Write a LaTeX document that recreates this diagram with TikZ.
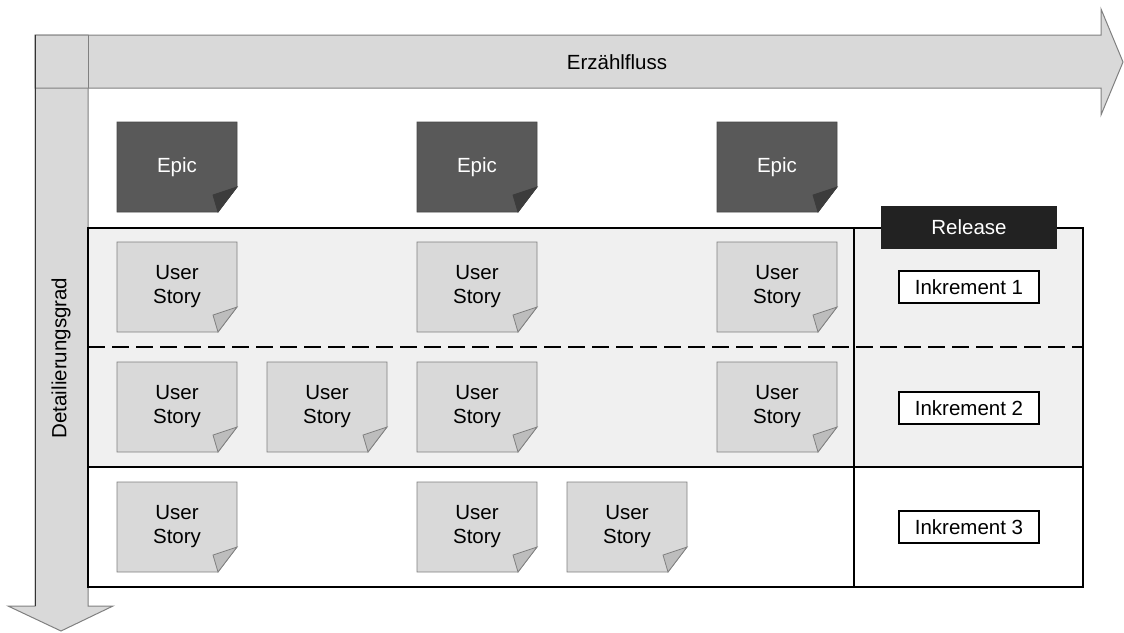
\documentclass[tikz,border=0pt]{standalone}
\usepackage{fontspec}
\setmainfont{Liberation Sans}
\definecolor{arrowfill}{HTML}{D9D9D9}
\definecolor{arrowline}{HTML}{808080}
\definecolor{rowfill}{HTML}{F0F0F0}
\definecolor{epicfill}{HTML}{595959}
\definecolor{epicfoldfill}{HTML}{3C3C3C}
\definecolor{storyfill}{HTML}{D9D9D9}
\definecolor{storyfoldfill}{HTML}{BDBDBD}
\definecolor{releasefill}{HTML}{222222}
\tikzset{
  txt/.style={font=\fontsize{20.5}{24}\selectfont, inner sep=0pt},
  bigarrow/.style={fill=arrowfill, draw=arrowline, line width=1pt, line join=miter},
  arrowedge/.style={draw=arrowline, line width=1pt},
  frame/.style={draw=black, line width=1.5pt},
  divider/.style={draw=black, line width=2pt, dash pattern=on 17pt off 7pt},
  epicbody/.style={fill=epicfill, draw=epicfill!80!black, line width=0.8pt},
  epicfold/.style={fill=epicfoldfill, draw=epicfoldfill, line width=0.8pt},
  storybody/.style={fill=storyfill, draw=arrowline, line width=0.8pt},
  storyfold/.style={fill=storyfoldfill, draw=arrowline, line width=0.8pt},
  epictext/.style={txt, text=white, align=center},
  storytext/.style={txt, text=black, align=center},
  release/.style={txt, fill=releasefill, text=white, minimum width=176pt, minimum height=43pt},
  increment/.style={txt, fill=white, draw=black, line width=1.2pt, minimum width=140pt, minimum height=32pt},
  pics/note/.style n args={4}{code={
    \path[#1] (-60,45) -- (60,45) -- (60,-20) -- (41,-45) -- (-60,-45) -- cycle;
    \path[#2] (60,-20) -- (36,-28) -- (41,-45) -- cycle;
    \node[#3] (-t) at (0,0) {#4};
  }}
}
\begin{document}
\begin{tikzpicture}[x=1pt,y=1pt]
\useasboundingbox (0,0) rectangle (1124,-632);
% arrows
\path[bigarrow] (35,-35) -- (88,-35) -- (88,-606) -- (113,-606) -- (61,-631) -- (8,-606) -- (35,-606) -- cycle;
\path[bigarrow] (35,-35) -- (1101,-35) -- (1101,-9) -- (1123,-62) -- (1101,-115) -- (1101,-88) -- (35,-88) -- cycle;
\path[arrowedge] (88,-35) -- (88,-88);
\path[draw=black!80, line width=1pt] (35,-35) -- (35,-606);
\node[txt] (flow) at (617,-62) {Erzählfluss};
\node[txt, rotate=90] (detail) at (61,-358) {Detailierungsgrad};
% frame
\coordinate (tl) at (88,-228);
\coordinate (br) at (1083,-587);
\fill[rowfill] (tl) rectangle (1083,-467);
\path[divider] (88,-347) -- (1083,-347);
\path[frame] (88,-467) -- (1083,-467);
\path[frame] (854,-228) -- (854,-587);
\path[frame] (tl) rectangle (br);
% release column
\node[release] (rel) at (969,-227) {Release};
\node[increment] (inc1) at (969,-287) {Inkrement 1};
\node[increment] (inc2) at (969,-408) {Inkrement 2};
\node[increment] (inc3) at (969,-527) {Inkrement 3};
% epics
\pic (e1) at (177,-167) {note={epicbody}{epicfold}{epictext}{Epic}};
\pic (e2) at (477,-167) {note={epicbody}{epicfold}{epictext}{Epic}};
\pic (e3) at (777,-167) {note={epicbody}{epicfold}{epictext}{Epic}};
% row 1
\pic (s11) at (177,-287) {note={storybody}{storyfold}{storytext}{User\\Story}};
\pic (s12) at (477,-287) {note={storybody}{storyfold}{storytext}{User\\Story}};
\pic (s13) at (777,-287) {note={storybody}{storyfold}{storytext}{User\\Story}};
% row 2
\pic (s21) at (177,-407) {note={storybody}{storyfold}{storytext}{User\\Story}};
\pic (s22) at (327,-407) {note={storybody}{storyfold}{storytext}{User\\Story}};
\pic (s23) at (477,-407) {note={storybody}{storyfold}{storytext}{User\\Story}};
\pic (s24) at (777,-407) {note={storybody}{storyfold}{storytext}{User\\Story}};
% row 3
\pic (s31) at (177,-527) {note={storybody}{storyfold}{storytext}{User\\Story}};
\pic (s32) at (477,-527) {note={storybody}{storyfold}{storytext}{User\\Story}};
\pic (s33) at (627,-527) {note={storybody}{storyfold}{storytext}{User\\Story}};
\end{tikzpicture}
\end{document}
